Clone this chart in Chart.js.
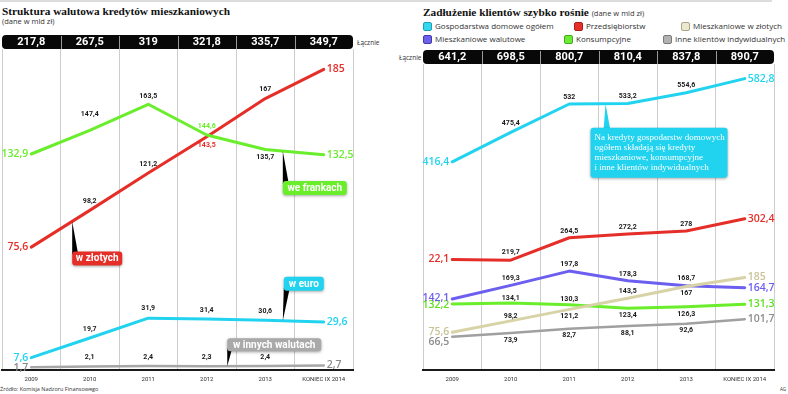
<!DOCTYPE html>
<html><head><meta charset="utf-8">
<script src="https://cdn.jsdelivr.net/npm/chart.js@4/dist/chart.umd.min.js"></script>
<style>
html,body{margin:0;padding:0;background:#fff;width:788px;height:394px;overflow:hidden;}
#wrap{position:relative;width:788px;height:394px;}
canvas{position:absolute;top:0;}
#c1{left:0}#c2{left:394px}
.t{position:absolute;white-space:nowrap;color:#222;}
.ttl{font-family:'Liberation Serif',serif;font-weight:bold;font-size:11.3px;line-height:12px;color:#111;}
.sub{font-family:'Open Sans',sans-serif;font-size:7.5px;line-height:9px;color:#333;font-weight:normal;}
.lg{position:absolute;font-family:'Open Sans',sans-serif;font-size:8px;color:#333;line-height:10px;white-space:nowrap;}
.lg i{display:inline-block;width:9px;height:9px;border-radius:2px;border:1px solid;vertical-align:-2px;margin-right:3px;box-sizing:border-box;}
</style></head>
<body><div id="wrap">
<div style="position:absolute;left:0;top:0;width:772px;height:2px;background:#dcdcdc"></div>
<div class="t ttl" style="left:2px;top:5px">Struktura walutowa kredytów mieszkaniowych</div>
<div class="t sub" style="left:2px;top:17px">(dane w mld zł)</div>
<div class="t sub" style="left:357px;top:38px;font-size:6.5px">Łącznie</div>
<div class="t ttl" style="left:423px;top:6px">Zadłużenie klientów szybko rośnie <span class="sub">(dane w mld zł)</span></div>
<div class="lg" style="left:423px;top:21px"><i style="background:#35d7f0;border-color:#1aa2b8"></i>Gospodarstwa domowe ogółem</div>
<div class="lg" style="left:574px;top:21px"><i style="background:#e8302b;border-color:#a81e1a"></i>Przedsiębiorstw</div>
<div class="lg" style="left:681px;top:21px"><i style="background:#ebe8cf;border-color:#a9a68c"></i>Mieszkaniowe w złotych</div>
<div class="lg" style="left:423px;top:34px"><i style="background:#6c61ea;border-color:#4538b0"></i>Mieszkaniowe walutowe</div>
<div class="lg" style="left:564px;top:34px"><i style="background:#6cec35;border-color:#42a81c"></i>Konsumpcyjne</div>
<div class="lg" style="left:663px;top:34px"><i style="background:#b2b2b2;border-color:#7a7a7a"></i>Inne klientów indywidualnych</div>
<div class="t sub" style="left:399px;top:53px;font-size:6.5px">Łącznie</div>
<div class="t sub" style="left:0px;top:385px;font-size:5.5px">Źródło: Komisja Nadzoru Finansowego</div>
<div class="t sub" style="left:780px;top:385px;font-size:4.5px">AG</div>
<canvas id="c1" width="394" height="394"></canvas>
<canvas id="c2" width="394" height="394"></canvas>
</div>
<script>
// ---- categories ----
const years = ['2009', '2010', '2011', '2012', '2013', 'KONIEC IX 2014'];

// ---- left panel: Struktura walutowa kredytów mieszkaniowych ----
const leftTotals = [217.8, 267.5, 319, 321.8, 335.7, 349.7];
const housingPLN = [75.6, 98.2, 121.2, 143.5, 167, 185];
const housingCHF = [132.9, 147.4, 163.5, 144.6, 135.7, 132.5];
const housingEUR = [7.6, 19.7, 31.9, 31.4, 30.6, 29.6];
const housingOther = [1.7, 2.1, 2.4, 2.3, 2.4, 2.7];

// ---- right panel: Zadłużenie klientów szybko rośnie ----
const rightTotals = [641.2, 698.5, 800.7, 810.4, 837.8, 890.7];
const households = [416.4, 475.4, 532, 533.2, 554.6, 582.8];
const enterprises = [221, 219.7, 264.5, 272.2, 278, 302.4];
const housingFX = [142.1, 169.3, 197.8, 178.3, 168.7, 164.7];
const consumer = [132.2, 134.1, 130.3, 123.4, 126.3, 131.3];
const housingPLN2 = [75.6, 98.2, 121.2, 143.5, 167, 185];
const otherRetail = [66.5, 73.9, 82.7, 88.1, 92.6, 101.7];

const fmt = v => String(v).replace('.', ',');

function rr(ctx, x, y, w, h, r) {
  ctx.beginPath();
  ctx.moveTo(x + r, y); ctx.lineTo(x + w - r, y); ctx.quadraticCurveTo(x + w, y, x + w, y + r);
  ctx.lineTo(x + w, y + h - r); ctx.quadraticCurveTo(x + w, y + h, x + w - r, y + h);
  ctx.lineTo(x + r, y + h); ctx.quadraticCurveTo(x, y + h, x, y + h - r);
  ctx.lineTo(x, y + r); ctx.quadraticCurveTo(x, y, x + r, y); ctx.closePath();
}

const panelPlugin = {
  id: 'panel',
  beforeDatasetsDraw(chart, args, o) {
    const ctx = chart.ctx, a = chart.chartArea, x = chart.scales.x;
    const n = o.totals.length, cw = (a.right - a.left) / n;
    ctx.save();
    ctx.fillStyle = '#080808';
    rr(ctx, a.left, a.top - 14, a.right - a.left, 14, 4); ctx.fill();
    ctx.strokeStyle = '#9a9a9a'; ctx.lineWidth = 1;
    for (let i = 1; i < n; i++) {
      const gx = Math.round(a.left + i * cw) + 0.5;
      ctx.beginPath(); ctx.moveTo(gx, a.top - 13); ctx.lineTo(gx, a.top); ctx.stroke();
    }
    ctx.fillStyle = '#fff'; ctx.font = 'bold 11px Roboto'; ctx.textAlign = 'center'; ctx.textBaseline = 'middle';
    o.totals.forEach((t, i) => ctx.fillText(fmt(t), x.getPixelForValue(i), a.top - 6.5));
    ctx.restore();
  },
  afterDatasetsDraw(chart, args, o) {
    const ctx = chart.ctx;
    ctx.save();
    // data labels
    o.series.forEach((s, di) => {
      const pts = chart.getDatasetMeta(di).data;
      const vals = chart.data.datasets[di].data;
      ctx.textBaseline = 'middle';
      ctx.font = 'bold 7px Roboto';
      ctx.textAlign = 'center';
      for (let i = 1; i < vals.length - 1; i++) {
        const p = s.pos[i - 1];
        const dy = typeof p === 'number' ? p : (p === 'a' ? o.aDy : o.bDy);
        ctx.fillStyle = (s.lblColor && s.lblColor[i - 1]) || '#1a1a1a';
        ctx.fillText(fmt(vals[i]), pts[i].x, pts[i].y + dy);
      }
      ctx.font = '600 10.5px "Open Sans"';
      ctx.fillStyle = s.endColor;
      ctx.textAlign = 'right';
      const st = (s.text && s.text[0]) || fmt(vals[0]);
      ctx.fillText(st, pts[0].x - 3, pts[0].y + (s.sDy || 0));
      ctx.textAlign = 'left';
      const last = vals.length - 1;
      ctx.fillText(fmt(vals[last]), pts[last].x + 3, pts[last].y + (s.eDy || 0));
    });
    // callouts
    (o.callouts || []).forEach(c => {
      const pts = chart.getDatasetMeta(c.ds).data;
      const i0 = Math.floor(c.at), f = c.at - i0;
      const p0 = pts[i0], p1 = pts[Math.min(i0 + 1, pts.length - 1)];
      const ax = p0.x + (p1.x - p0.x) * f, ay = p0.y + (p1.y - p0.y) * f;
      const bx = ax + c.dx, by = ay + c.dy;
      const baseY = c.dy > 0 ? by + 3 : by + c.h - 3;
      ctx.fillStyle = c.ptr;
      ctx.beginPath(); ctx.moveTo(ax, ay); ctx.lineTo(ax + c.pOff, baseY); ctx.lineTo(ax + c.pOff + c.pW, baseY); ctx.closePath(); ctx.fill();
      ctx.save();
      ctx.shadowColor = 'rgba(0,0,0,0.35)'; ctx.shadowBlur = 3; ctx.shadowOffsetY = 1;
      ctx.fillStyle = c.bg;
      rr(ctx, bx, by, c.w, c.h, 3); ctx.fill();
      ctx.restore();
      ctx.fillStyle = '#fff';
      ctx.textBaseline = 'middle';
      if (c.lines) {
        ctx.font = '9px "Liberation Serif"'; ctx.textAlign = 'left';
        c.lines.forEach((l, k) => ctx.fillText(l, bx + 4, by + 10 + k * 10));
      } else {
        ctx.font = 'bold 10px Roboto'; ctx.textAlign = 'center';
        ctx.fillText(c.text, bx + c.w / 2, by + c.h / 2 + 0.5);
      }
    });
    ctx.restore();
  }
};

function makeChart(id, cfg) {
  return new Chart(document.getElementById(id), {
    type: 'line',
    data: {
      labels: years,
      datasets: cfg.sets.map(d => ({
        label: d.label, data: d.data, borderColor: d.color, backgroundColor: d.color,
        borderWidth: d.w || 3, pointRadius: 0, pointHoverRadius: 0, tension: 0, fill: false, clip: false,
        borderJoinStyle: 'round', borderCapStyle: 'round'
      }))
    },
    options: {
      responsive: false, animation: false, devicePixelRatio: 1,
      layout: { padding: cfg.padding },
      events: [],
      plugins: {
        legend: { display: false }, tooltip: { enabled: false },
        panel: { totals: cfg.totals, series: cfg.sets, callouts: cfg.callouts, aDy: cfg.aDy, bDy: cfg.bDy }
      },
      scales: {
        x: {
          offset: true,
          grid: { offset: true, color: '#cdcdcd', lineWidth: 1, drawTicks: false },
          border: { display: true, color: '#1a1a1a', width: 2 },
          ticks: { font: { family: 'Roboto', size: 6 }, color: '#333', padding: 6, maxRotation: 0, autoSkip: false },
          afterFit: s => { s.height = 24; }
        },
        y: { display: false, min: 0, max: cfg.ymax }
      }
    },
    plugins: [panelPlugin]
  });
}

const RED = '#e62e29', GREEN = '#6aee2c', CYAN = '#22d3f0', GRAY = '#a6a6a6';

makeChart('c1', {
  padding: { left: 2, right: 41, top: 49, bottom: 0 },
  ymax: 197.5, totals: leftTotals, aDy: -9, bDy: 8,
  sets: [
    { label: 'w innych walutach', data: housingOther, color: GRAY, w: 2.5, endColor: '#8a8a8a', pos: ['a', 'a', 'a', 'a'], sDy: 1, eDy: -1 },
    { label: 'w euro', data: housingEUR, color: CYAN, endColor: CYAN, pos: ['a', -10, 'a', 'a'], sDy: 0 },
    { label: 'we frankach', data: housingCHF, color: GREEN, endColor: GREEN, pos: [-16, -8, 'a', 'b'], lblColor: [null, null, GREEN, null] },
    { label: 'w złotych', data: housingPLN, color: RED, endColor: RED, pos: ['a', 'a', 'b', 'a'], lblColor: [null, null, RED, null] }
  ],
  callouts: [
    { text: 'w złotych', ds: 3, at: 0.70, dx: 0, dy: 30, w: 50, h: 14, bg: RED, ptr: '#000', pOff: 0, pW: 6 },
    { text: 'we frankach', ds: 2, at: 4.3, dx: 0, dy: 30, w: 64, h: 14, bg: GREEN, ptr: '#000', pOff: 0, pW: 6 },
    { text: 'w euro', ds: 1, at: 4.3, dx: 1, dy: -44, w: 40, h: 14, bg: CYAN, ptr: '#000', pOff: 1, pW: 6 },
    { text: 'w innych walutach', ds: 0, at: 3.35, dx: 0, dy: -28, w: 94, h: 13, bg: '#a9a9a9', ptr: '#000', pOff: 0, pW: 5 }
  ]
});

makeChart('c2', {
  padding: { left: 29, right: 14, top: 64, bottom: 0 },
  ymax: 612, totals: rightTotals, aDy: -7, bDy: 7,
  sets: [
    { label: 'Inne klientów indywidualnych', data: otherRetail, color: '#a0a0a0', w: 2.5, endColor: '#8d8d8d', pos: ['b', 'b', 'b', 'b'], sDy: 5 },
    { label: 'Mieszkaniowe w złotych', data: housingPLN2, color: '#d8d3a6', endColor: '#c9c39a', pos: [-5, 'b', 'a', 'b'], sDy: 0 },
    { label: 'Konsumpcyjne', data: consumer, color: GREEN, endColor: '#5fe020', pos: [-5, -6, 'b', 'b'], sDy: 1 },
    { label: 'Mieszkaniowe walutowe', data: housingFX, color: '#6c5ff0', endColor: '#6c5ff0', pos: ['a', 'a', 'a', 'a'], sDy: -1 },
    { label: 'Przedsiębiorstw', data: enterprises, color: RED, endColor: RED, pos: [-8, 'a', 'a', 'a'], text: ['22,1'] },
    { label: 'Gospodarstwa domowe ogółem', data: households, color: CYAN, endColor: CYAN, pos: [-9, 'a', 'a', 'a'] }
  ],
  callouts: [
    { lines: ['Na kredyty gospodarstw domowych', 'ogółem składają się kredyty', 'mieszkaniowe, konsumpcyjne', 'i inne klientów indywidualnych'],
      ds: 5, at: 2.62, dx: -15, dy: 24, w: 137, h: 50, bg: '#22d3f0', ptr: '#22d3f0', pOff: -2, pW: 7 }
  ]
});
</script>
</body></html>
